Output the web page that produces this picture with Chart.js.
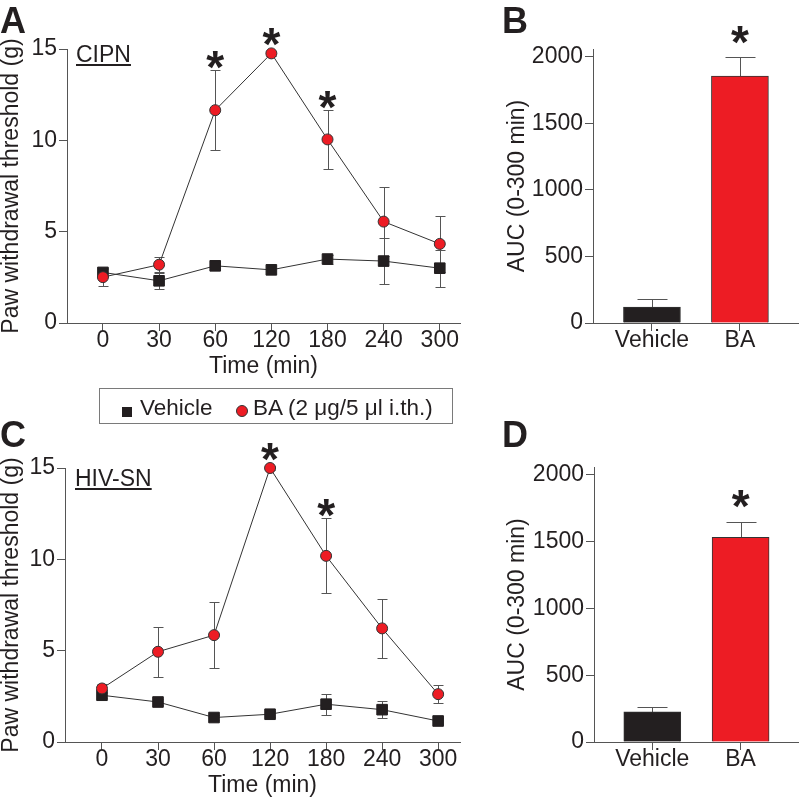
<!DOCTYPE html>
<html>
<head>
<meta charset="utf-8">
<script src="https://cdn.jsdelivr.net/npm/chart.js@4.4.0/dist/chart.umd.min.js"></script>
<style>
  html, body { margin: 0; padding: 0; background: #fff; }
  #wrap { position: relative; width: 800px; height: 801px; overflow: hidden;
          font-family: "Liberation Sans", Arial, Helvetica, sans-serif; color: #231f20; }
  canvas { position: absolute; }
  .letter { position: absolute; font-weight: bold; font-size: 36px; line-height: 36px; }
  .tag { position: absolute; font-size: 23px; line-height: 23px; text-decoration: underline;
         text-decoration-thickness: 1.5px; text-underline-offset: 2px; }
  #legend { position: absolute; left: 99px; top: 388px; width: 352px; height: 34px;
            border: 1px solid #7a7a7a; }
  #legend .lt { position: absolute; top: 7px; font-size: 22.5px; line-height: 23px; white-space: nowrap; }
  #legend .sq { position: absolute; left: 22px; top: 18px; width: 10px; height: 10px; background: #231f20; }
  #legend .dot { position: absolute; left: 136px; top: 16px; width: 10px; height: 10px; border-radius: 50%;
                 background: #ed1c24; border: 1px solid #333; }
</style>
</head>
<body>
<div id="wrap">
  <canvas id="chartA" width="470" height="380" style="left:0;top:0"></canvas>
  <canvas id="chartB" width="330" height="380" style="left:470px;top:0"></canvas>
  <canvas id="chartC" width="470" height="421" style="left:0;top:380px"></canvas>
  <canvas id="chartD" width="330" height="421" style="left:470px;top:380px"></canvas>

  <div class="letter" style="left:0;top:3px">A</div>
  <div class="letter" style="left:502px;top:3px">B</div>
  <div class="letter" style="left:0;top:417px">C</div>
  <div class="letter" style="left:502px;top:417px">D</div>

  <div class="tag" style="left:76px;top:43px">CIPN</div>
  <div class="tag" style="left:75px;top:467px">HIV-SN</div>

  <div id="legend">
    <span class="sq"></span><span class="lt" style="left:40px">Vehicle</span>
    <span class="dot"></span><span class="lt" style="left:153px">BA (2 μg/5 μl i.th.)</span>
  </div>
</div>

<script>
const timeLabels = ["0", "30", "60", "120", "180", "240", "300"];
const groupLabels = ["Vehicle", "BA"];
const pawTicks = [0, 5, 10, 15];
const aucTicks = [0, 500, 1000, 1500, 2000];

// A: CIPN time course
const cipnVehicle = [2.77, 2.31, 3.13, 2.91, 3.5, 3.39, 3.0];
const cipnVehicleSem = [0.2, 0.45, 0.25, 0.2, 0.25, 1.26, 1.02];
const cipnBA = [2.51, 3.19, 11.65, 14.76, 10.05, 5.55, 4.33];
const cipnBASem = [0.5, 0.4, 2.2, 0.15, 1.6, 1.9, 1.55];
const cipnSig = [0, 0, 1, 1, 1, 0, 0];

// B: CIPN AUC
const cipnAuc = [120, 1855];
const cipnAucSem = [63, 140];
const cipnAucSig = [0, 1];

// C: HIV-SN time course
const hivVehicle = [2.56, 2.19, 1.34, 1.52, 2.07, 1.77, 1.15];
const hivVehicleSem = [0.15, 0.15, 0.15, 0.15, 0.57, 0.48, 0.15];
const hivBA = [2.93, 4.94, 5.85, 15.0, 10.19, 6.22, 2.62];
const hivBASem = [0.27, 1.37, 1.8, 0.1, 2.05, 1.6, 0.48];
const hivSig = [0, 0, 0, 1, 1, 0, 0];

// D: HIV-SN AUC
const hivAuc = [225, 1532];
const hivAucSem = [37, 118];
const hivAucSig = [0, 1];

const ink = "#231f20";
const axisGray = "#555";
const red = "#ed1c24";
const fontFamily = '"Liberation Sans", Arial, Helvetica, sans-serif';

Chart.defaults.font.family = fontFamily;
Chart.defaults.font.size = 23;
Chart.defaults.color = ink;

// error bars behind the marks, asterisks on top
const errorBars = {
  id: "errorBars",
  beforeDatasetsDraw(chart) {
    const { ctx } = chart;
    const xs = chart.scales.x, ys = chart.scales.y;
    chart.data.datasets.forEach(ds => {
      if (!ds.sem) return;
      ctx.save();
      ctx.strokeStyle = axisGray;
      ctx.lineWidth = 1;
      ds.data.forEach((p, i) => {
        const px = Math.round(xs.getPixelForValue(p.x)) + 0.5;
        const top = Math.round(ys.getPixelForValue(p.y + ds.sem[i])) + 0.5;
        const bot = Math.round(ys.getPixelForValue(ds.upOnly ? p.y : p.y - ds.sem[i])) + 0.5;
        ctx.beginPath();
        ctx.moveTo(px, top); ctx.lineTo(px, bot);
        ctx.moveTo(px - ds.cap, top); ctx.lineTo(px + ds.cap, top);
        if (!ds.upOnly) { ctx.moveTo(px - ds.cap, bot); ctx.lineTo(px + ds.cap, bot); }
        ctx.stroke();
      });
      ctx.restore();
    });
  },
  afterDatasetsDraw(chart) {
    const { ctx } = chart;
    const xs = chart.scales.x, ys = chart.scales.y;
    chart.data.datasets.forEach(ds => {
      if (!ds.sig) return;
      ctx.save();
      ctx.fillStyle = ink;
      ctx.font = "bold 46px " + fontFamily;
      ctx.textAlign = "center";
      ctx.textBaseline = "alphabetic";
      ds.data.forEach((p, i) => {
        if (!ds.sig[i]) return;
        const px = xs.getPixelForValue(p.x);
        const top = Math.min(ys.getPixelForValue(p.y + ds.sem[i]), ys.getPixelForValue(p.y) - 6);
        const center = top - ds.starGap;
        ctx.fillText("*", px, center + 26.5);
      });
      ctx.restore();
    });
  }
};

function axisStyle() {
  return {
    grid: { drawOnChartArea: false, drawTicks: true, tickLength: 8, color: axisGray, offset: false },
    border: { display: true, color: axisGray, width: 1 }
  };
}

function lineChart(id, vehicle, vehicleSem, ba, baSem, sig, box) {
  const pts = arr => arr.map((v, i) => ({ x: i, y: v }));
  return new Chart(document.getElementById(id), {
    type: "line",
    data: {
      datasets: [
        {
          label: "BA", data: pts(ba), sem: baSem, sig: sig, cap: 5, starGap: 14, order: 1, clip: false,
          borderColor: "#333", borderWidth: 1, pointStyle: "circle", pointRadius: 5.5,
          pointBackgroundColor: red, pointBorderColor: "#333", pointBorderWidth: 1
        },
        {
          label: "Vehicle", data: pts(vehicle), sem: vehicleSem, cap: 5, order: 2, clip: false,
          borderColor: "#333", borderWidth: 1, pointStyle: "rect", pointRadius: 7.5,
          pointBackgroundColor: ink, pointBorderColor: ink, pointBorderWidth: 1
        }
      ]
    },
    options: {
      responsive: false, animation: false, devicePixelRatio: 1, events: [],
      layout: { padding: box.pad },
      plugins: { legend: { display: false }, tooltip: { enabled: false } },
      scales: {
        x: {
          type: "linear", min: box.xmin, max: box.xmax,
          afterFit: s => { s.height = 57; },
          afterBuildTicks: s => { s.ticks = timeLabels.map((_, i) => ({ value: i })); },
          ticks: { callback: v => timeLabels[v], padding: -2, autoSkip: false, maxRotation: 0,
                   font: { size: 23, lineHeight: 1 } },
          title: { display: true, text: "Time (min)", padding: 0, font: { size: 23 } },
          ...axisStyle()
        },
        y: {
          min: 0, max: 15,
          afterFit: s => { s.width = box.yWidth; },
          afterBuildTicks: s => { s.ticks = pawTicks.map(v => ({ value: v })); },
          ticks: { padding: 2, font: { size: 23 }, callback: v => String(v) },
          title: { display: true, text: "Paw withdrawal threshold (g)", padding: { top: -2, bottom: 0 },
                   font: { size: 23 } },
          ...axisStyle()
        }
      }
    },
    plugins: [errorBars]
  });
}

function barChart(id, auc, sem, sig, box) {
  return new Chart(document.getElementById(id), {
    type: "bar",
    data: {
      datasets: [{
        data: auc.map((v, i) => ({ x: i, y: v })), sem: sem, sig: sig, upOnly: true, cap: 15, starGap: 26,
        backgroundColor: [ink, red], borderColor: "#333", borderWidth: 1, barThickness: 57
      }]
    },
    options: {
      responsive: false, animation: false, devicePixelRatio: 1, events: [],
      layout: { padding: box.pad },
      plugins: { legend: { display: false }, tooltip: { enabled: false } },
      scales: {
        x: {
          type: "linear", min: box.xmin, max: box.xmax, offset: false,
          afterFit: s => { s.height = 57; },
          afterBuildTicks: s => { s.ticks = groupLabels.map((_, i) => ({ value: i })); },
          ticks: { callback: v => groupLabels[v], padding: -2, autoSkip: false, maxRotation: 0,
                   font: { size: 23, lineHeight: 1 } },
          ...axisStyle()
        },
        y: {
          min: 0, max: 2058,
          afterFit: s => { s.width = box.yWidth; },
          afterBuildTicks: s => { s.ticks = aucTicks.map(v => ({ value: v })); },
          ticks: { padding: 2, font: { size: 23 }, callback: v => String(v) },
          title: { display: true, text: "AUC (0-300 min)", padding: { top: 34, bottom: 0 }, font: { size: 23 } },
          ...axisStyle()
        }
      }
    },
    plugins: [errorBars]
  });
}

lineChart("chartA", cipnVehicle, cipnVehicleSem, cipnBA, cipnBASem, cipnSig,
  { pad: { top: 49, right: 10, bottom: 0, left: 0 }, yWidth: 67, xmin: -0.64, xmax: 6.36 });
barChart("chartB", cipnAuc, cipnAucSem, cipnAucSig,
  { pad: { top: 49, right: 2, bottom: 0, left: 0 }, yWidth: 123, xmin: -0.67, xmax: 1.66 });
lineChart("chartC", hivVehicle, hivVehicleSem, hivBA, hivBASem, hivSig,
  { pad: { top: 88, right: 10, bottom: 2, left: 0 }, yWidth: 65, xmin: -0.66, xmax: 6.39 });
barChart("chartD", hivAuc, hivAucSem, hivAucSig,
  { pad: { top: 87, right: 2, bottom: 2, left: 0 }, yWidth: 124, xmin: -0.66, xmax: 1.65 });
</script>
</body>
</html>
